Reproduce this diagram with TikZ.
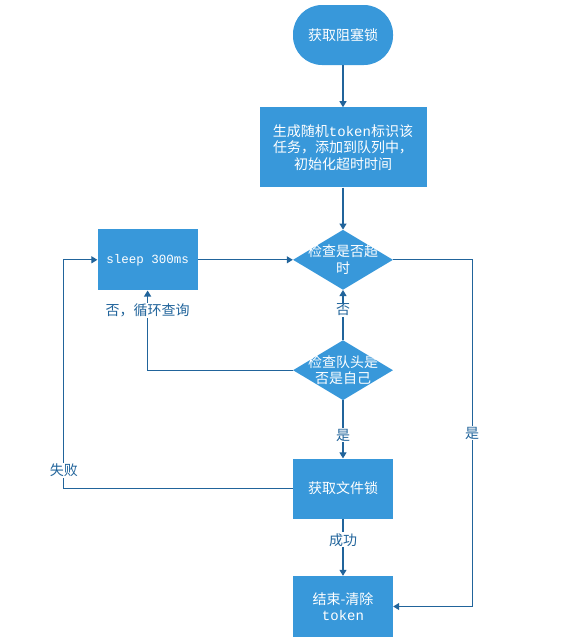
\documentclass[tikz,border=0pt]{standalone}
\usepackage{fontspec}
\setmainfont{Noto Sans CJK SC}
\setmonofont{Liberation Mono}
\usetikzlibrary{shapes.geometric,arrows.meta,positioning}
\definecolor{cajaazul}{RGB}{56,152,218}
\definecolor{lineaazul}{RGB}{33,100,155}
\tikzset{
  caja/.style={rectangle, fill=cajaazul, text=white, align=center,
               font=\fontsize{14}{16.5}\selectfont, inner sep=2pt},
  rombo/.style={diamond, fill=cajaazul, minimum width=100pt, minimum height=60pt,
                inner sep=0pt},
  dentro/.style={text=white, align=center, font=\fontsize{14}{16.5}\selectfont},
  flecha/.style={draw=lineaazul, line width=1.1pt, -{Triangle[length=6pt,width=7pt]}},
  etiqueta/.style={fill=white, text=lineaazul, inner sep=1pt,
                   font=\fontsize{14}{16.5}\selectfont}
}

\begin{document}
\begin{tikzpicture}[x=1pt, y=-1pt, node distance=40pt and 95pt]
\useasboundingbox (0,0) rectangle (569,641);

\node[caja, minimum width=100pt, minimum height=60pt, rounded corners=29pt]
  (inicio) at (343,35) {获取阻塞锁};

\node[caja, minimum width=167pt, minimum height=80pt, below=42pt of inicio]
  (cola) {生成随机\texttt{token}标识该\\任务，添加到队列中，\\初始化超时时间};

\node[rombo, below=42pt of cola,
      label={[dentro]center:检查是否超\\时}] (plazo) {};

\node[caja, minimum width=100pt, minimum height=61pt, left=95pt of plazo]
  (espera) {\fontsize{12.5}{15}\selectfont\ttfamily sleep 300ms};

\node[rombo, below=50pt of plazo,
      label={[dentro]center:检查队头是\\否是自己}] (cabeza) {};

\node[caja, minimum width=100pt, minimum height=60pt, below=58pt of cabeza]
  (archivo) {获取文件锁};

\node[caja, minimum width=100pt, minimum height=61pt, below=57pt of archivo]
  (fin) {结束-清除\\\texttt{token}};

\draw[flecha] (inicio) -- (cola);
\draw[flecha] (cola) -- (plazo);
\draw[flecha] (espera.east) -- (plazo.west);
\draw[flecha] (plazo.east) -- ++(79,0) |- node[etiqueta, pos=0.25]{是} (fin.east);
\draw[flecha] (cabeza) -- node[etiqueta, pos=0.6]{否} (plazo);
\draw[flecha] (cabeza.west) -| node[etiqueta, pos=0.875]{否，循环查询} (espera.south);
\draw[flecha] (cabeza) -- node[etiqueta, pos=0.6]{是} (archivo);
\draw[flecha] (archivo) -- node[etiqueta, pos=0.37]{成功} (fin);
\draw[flecha] (archivo.west) -- ++(-229,0) |- node[etiqueta, pos=0.04]{失败} (espera.west);

\end{tikzpicture}
\end{document}
